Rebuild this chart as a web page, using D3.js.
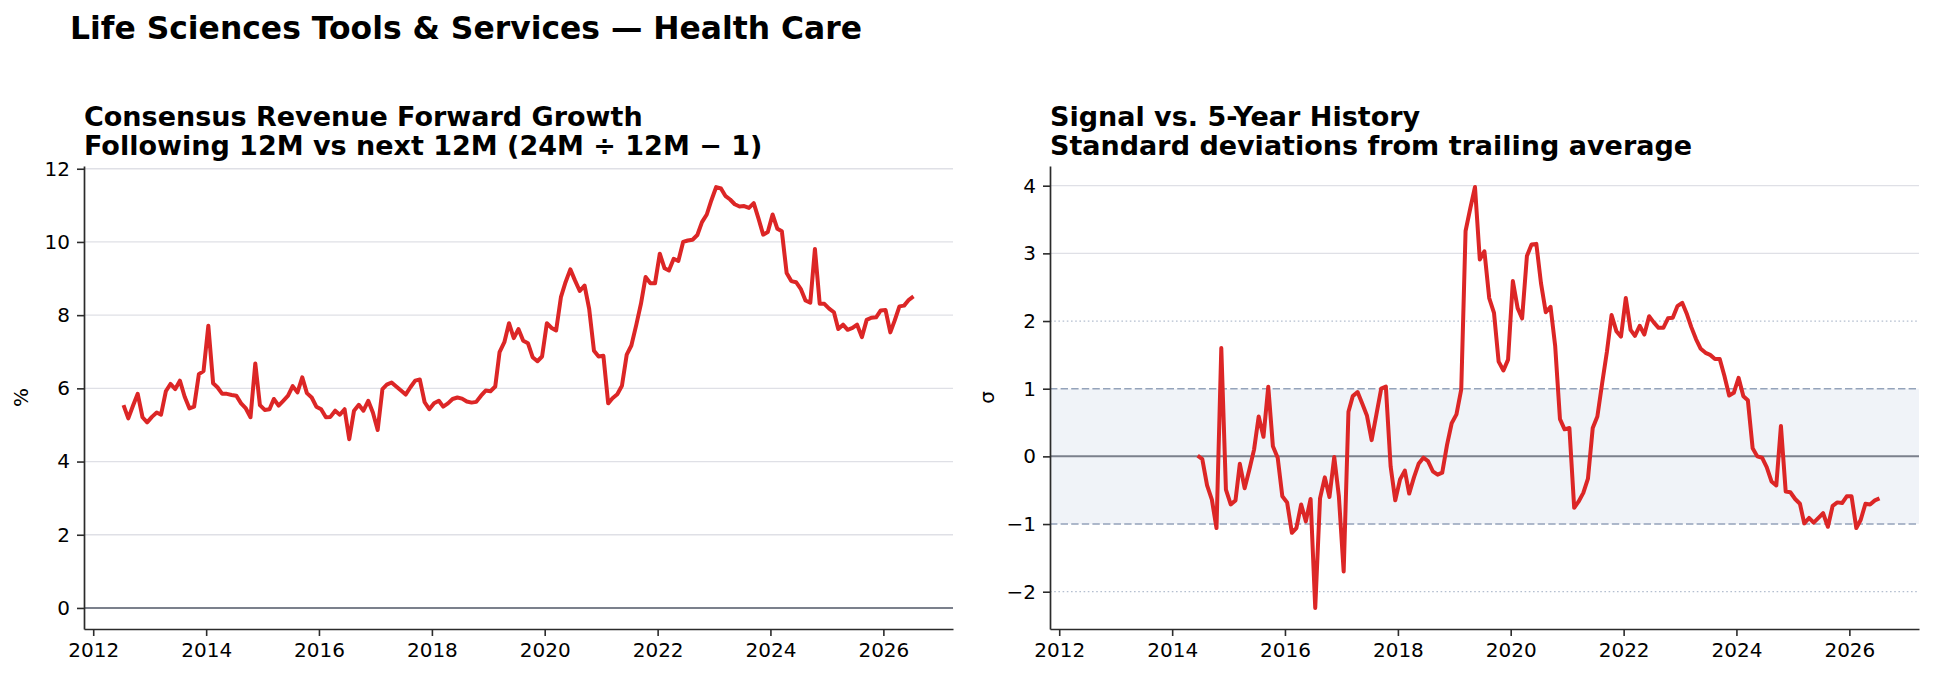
<!DOCTYPE html>
<html>
<head>
<meta charset="utf-8">
<script src="https://cdn.jsdelivr.net/npm/d3@7"></script>
<style>
  html, body { margin: 0; padding: 0; background: #fff; }
  svg { display: block; font-family: "DejaVu Sans", sans-serif; }
</style>
</head>
<body>
<svg id="chart" width="1934" height="679"></svg>
<script>
// monthly series, first month given as [year, monthIndex]
const growthStart = [2012, 6];
const growthValues = [
  5.54, 5.18, 5.53, 5.85, 5.21, 5.07, 5.22, 5.34, 5.28, 5.92,
  6.12, 5.98, 6.21, 5.77, 5.45, 5.50, 6.39, 6.47, 7.71, 6.14,
  6.03, 5.85, 5.85, 5.82, 5.80, 5.59, 5.45, 5.21, 6.68, 5.54,
  5.41, 5.43, 5.71, 5.53, 5.66, 5.80, 6.06, 5.89, 6.30, 5.87,
  5.75, 5.50, 5.43, 5.21, 5.22, 5.39, 5.28, 5.43, 4.61, 5.39,
  5.55, 5.39, 5.66, 5.34, 4.86, 5.98, 6.10, 6.16, 6.05, 5.94,
  5.83, 6.03, 6.21, 6.24, 5.62, 5.43, 5.59, 5.66, 5.50, 5.59,
  5.71, 5.75, 5.72, 5.64, 5.61, 5.63, 5.80, 5.94, 5.92, 6.05,
  6.99, 7.26, 7.78, 7.37, 7.62, 7.30, 7.23, 6.85, 6.74, 6.87,
  7.78, 7.65, 7.58, 8.49, 8.90, 9.25, 8.95, 8.66, 8.81, 8.17,
  7.03, 6.87, 6.89, 5.59, 5.73, 5.84, 6.07, 6.92, 7.17, 7.72,
  8.31, 9.04, 8.87, 8.87, 9.68, 9.28, 9.22, 9.54, 9.48, 10.00,
  10.04, 10.06, 10.19, 10.54, 10.75, 11.14, 11.50, 11.46, 11.26, 11.16,
  11.03, 10.97, 10.98, 10.93, 11.06, 10.65, 10.20, 10.27, 10.75, 10.36,
  10.29, 9.15, 8.93, 8.90, 8.72, 8.40, 8.34, 9.81, 8.31, 8.31,
  8.18, 8.08, 7.62, 7.74, 7.60, 7.65, 7.74, 7.40, 7.87, 7.93,
  7.94, 8.13, 8.14, 7.53, 7.85, 8.24, 8.26, 8.42, 8.51
];

const sigmaStart = [2014, 5];
const sigmaValues = [
  0.01, -0.04, -0.43, -0.64, -1.06, 1.60, -0.49, -0.71, -0.65, -0.11,
  -0.47, -0.20, 0.10, 0.59, 0.29, 1.03, 0.15, -0.02, -0.59, -0.68,
  -1.13, -1.06, -0.71, -0.96, -0.63, -2.24, -0.62, -0.31, -0.60, -0.01,
  -0.59, -1.70, 0.66, 0.89, 0.95, 0.78, 0.60, 0.24, 0.62, 1.00,
  1.03, -0.15, -0.65, -0.34, -0.21, -0.55, -0.31, -0.11, -0.02, -0.07,
  -0.22, -0.27, -0.24, 0.17, 0.49, 0.62, 0.99, 3.33, 3.67, 3.98,
  2.91, 3.03, 2.34, 2.12, 1.40, 1.27, 1.43, 2.59, 2.19, 2.04,
  2.96, 3.13, 3.14, 2.56, 2.13, 2.21, 1.63, 0.55, 0.40, 0.42,
  -0.76, -0.67, -0.54, -0.33, 0.42, 0.59, 1.08, 1.55, 2.09, 1.85,
  1.77, 2.34, 1.87, 1.78, 1.93, 1.80, 2.07, 1.98, 1.90, 1.90,
  2.04, 2.05, 2.22, 2.27, 2.10, 1.91, 1.73, 1.59, 1.53, 1.50,
  1.44, 1.44, 1.19, 0.90, 0.94, 1.16, 0.89, 0.83, 0.12, 0.00,
  -0.02, -0.16, -0.37, -0.43, 0.45, -0.52, -0.53, -0.63, -0.70, -0.99,
  -0.91, -0.98, -0.91, -0.84, -1.04, -0.73, -0.68, -0.69, -0.59, -0.59,
  -1.06, -0.94, -0.70, -0.71, -0.65, -0.62
];

const yearTicks = [2012, 2014, 2016, 2018, 2020, 2022, 2024, 2026];
const growthYTicks = [0, 2, 4, 6, 8, 10, 12];
const sigmaYTicks = [-2, -1, 0, 1, 2, 3, 4];

const mainTitle = 'Life Sciences Tools & Services \u2014 Health Care';
const growthTitle = ['Consensus Revenue Forward Growth', 'Following 12M vs next 12M (24M \u00f7 12M \u2212 1)'];
const sigmaTitle = ['Signal vs. 5-Year History', 'Standard deviations from trailing average'];

const RED = '#dc2626';
const SPINE = '#2b2b2b';
const GRID = '#dfe0e6';
const ZERO = '#7b808c';

const svg = d3.select('#chart');

// turn a start month + values into {date, value} rows
function toRows(start, values) {
  return values.map((v, i) => ({ date: new Date(start[0], start[1] + i, 15), value: v }));
}

const growthRows = toRows(growthStart, growthValues);
const sigmaRows = toRows(sigmaStart, sigmaValues);

// pad an extent by 5% each side (like matplotlib's default margins)
function pad(ext) {
  const span = ext[1] - ext[0];
  return [ext[0] - span * 0.05, ext[1] + span * 0.05];
}

const timeExt = d3.extent(growthRows, d => +d.date);
const timeDomain = pad(timeExt).map(t => new Date(t));

const fmtNum = d => (d < 0 ? '\u2212' + Math.abs(d) : String(d));

svg.append('text')
  .attr('x', 70)
  .attr('y', 39)
  .attr('font-size', 31.4)
  .attr('font-weight', 'bold')
  .attr('fill', '#000')
  .text(mainTitle);

/**
 * draws one panel
 */
function drawPanel(p) {
  const g = svg.append('g');
  const x = d3.scaleTime().domain(timeDomain).range([p.left, p.right]);
  const y = d3.scaleLinear().domain(p.yDomain).range([p.bottom, p.top]);

  // plain grid lines
  g.append('g')
    .selectAll('line')
    .data(p.yTicks.filter(v => !p.skipGrid.includes(v)))
    .join('line')
    .attr('x1', p.left)
    .attr('x2', p.right)
    .attr('y1', d => y(d))
    .attr('y2', d => y(d))
    .attr('stroke', GRID)
    .attr('stroke-width', 1.3);

  if (p.band) {
    g.append('rect')
      .attr('x', p.left)
      .attr('width', p.right - p.left)
      .attr('y', y(1))
      .attr('height', y(-1) - y(1))
      .attr('fill', '#f0f3f8');

    g.append('g')
      .selectAll('line')
      .data([-2, 2])
      .join('line')
      .attr('x1', p.left)
      .attr('x2', p.right)
      .attr('y1', d => y(d))
      .attr('y2', d => y(d))
      .attr('stroke', '#b4bfd0')
      .attr('stroke-width', 1.2)
      .attr('stroke-dasharray', '1.6 2.6');

    g.append('g')
      .selectAll('line')
      .data([-1, 1])
      .join('line')
      .attr('x1', p.left)
      .attr('x2', p.right)
      .attr('y1', d => y(d))
      .attr('y2', d => y(d))
      .attr('stroke', '#94a3ba')
      .attr('stroke-width', 1.5)
      .attr('stroke-dasharray', '7.4 3.2');
  }

  // zero line
  g.append('line')
    .attr('x1', p.left)
    .attr('x2', p.right)
    .attr('y1', y(0))
    .attr('y2', y(0))
    .attr('stroke', ZERO)
    .attr('stroke-width', 2);

  // data line
  g.append('path')
    .datum(p.rows)
    .attr('fill', 'none')
    .attr('stroke', RED)
    .attr('stroke-width', 4)
    .attr('stroke-linejoin', 'round')
    .attr(
      'd',
      d3
        .line()
        .x(d => x(d.date))
        .y(d => y(d.value))
    );

  // axes
  const xAxis = d3
    .axisBottom(x)
    .tickValues(yearTicks.map(yr => new Date(yr, 0, 1)))
    .tickFormat(d3.timeFormat('%Y'))
    .tickSize(7)
    .tickSizeOuter(0)
    .tickPadding(7);

  const yAxis = d3
    .axisLeft(y)
    .tickValues(p.yTicks)
    .tickFormat(fmtNum)
    .tickSize(7)
    .tickSizeOuter(0)
    .tickPadding(7);

  const gx = g.append('g').attr('transform', `translate(0,${p.bottom})`).call(xAxis);
  const gy = g.append('g').attr('transform', `translate(${p.left},0)`).call(yAxis);

  [gx, gy].forEach(a => {
    a.select('.domain').attr('stroke', SPINE).attr('stroke-width', 1.7);
    a.selectAll('.tick line').attr('stroke', SPINE).attr('stroke-width', 1.6);
    a.selectAll('.tick text')
      .attr('fill', '#000')
      .attr('font-size', 20)
      .attr('font-family', '"DejaVu Sans", sans-serif');
  });

  // y label
  g.append('text')
    .attr('transform', `translate(${p.left - 56},${(p.top + p.bottom) / 2}) rotate(-90)`)
    .attr('text-anchor', 'middle')
    .attr('font-size', 20)
    .attr('fill', '#000')
    .text(p.ylabel);

  // title, two lines
  g.append('g')
    .selectAll('text')
    .data(p.title)
    .join('text')
    .attr('x', p.left)
    .attr('y', (d, i) => 126 + i * 29)
    .attr('font-size', 27)
    .attr('font-weight', 'bold')
    .attr('fill', '#000')
    .text(d => d);
}

drawPanel({
  left: 84,
  right: 953,
  top: 166,
  bottom: 629,
  rows: growthRows,
  yDomain: pad([0, d3.max(growthValues)]),
  yTicks: growthYTicks,
  skipGrid: [0],
  band: false,
  ylabel: '%',
  title: growthTitle,
});

drawPanel({
  left: 1050,
  right: 1919,
  top: 166,
  bottom: 629,
  rows: sigmaRows,
  yDomain: pad(d3.extent(sigmaValues)),
  yTicks: sigmaYTicks,
  skipGrid: [-2, -1, 0, 1, 2],
  band: true,
  ylabel: '\u03c3',
  title: sigmaTitle,
});
</script>
</body>
</html>
